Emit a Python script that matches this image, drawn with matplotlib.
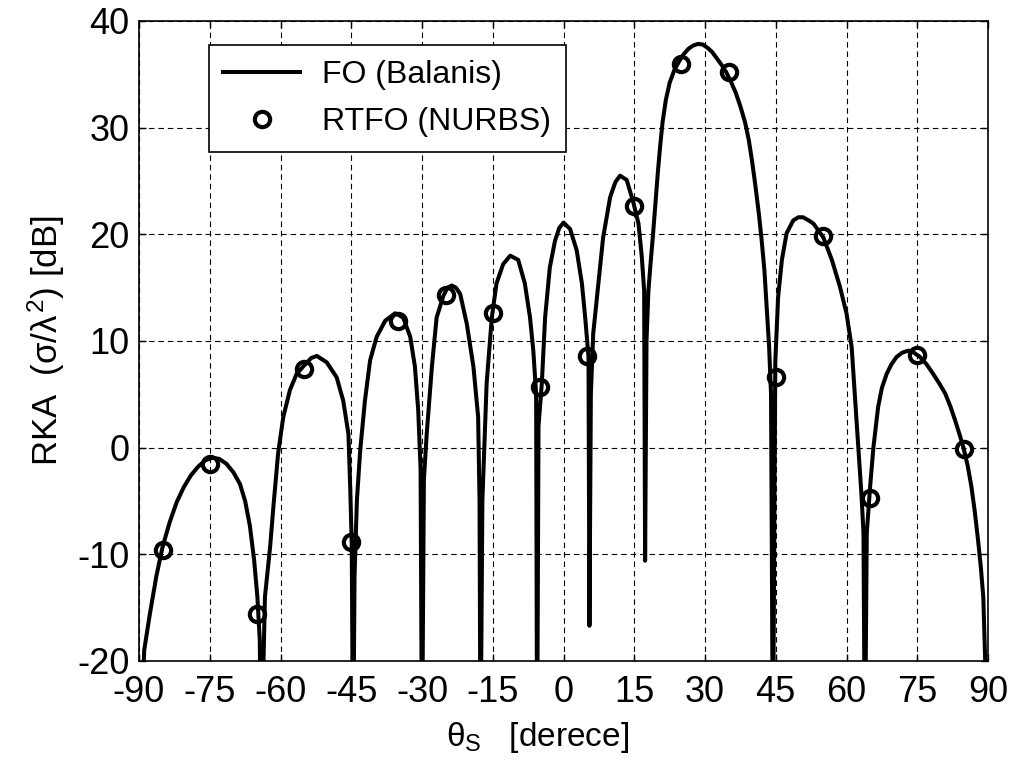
import matplotlib
matplotlib.use("Agg")
import matplotlib.pyplot as plt

# FO (Balanis) curve
fo_theta = [
    -89.3, -88.9, -87.7, -86.3, -85.0, -83.5, -82.0, -80.5, -79.0, -77.5,
    -76.0, -74.5, -73.0, -71.5, -70.0, -68.6, -67.5, -66.5, -65.6, -64.9,
    -64.4, -64.1,
    -63.7, -63.3, -62.2, -61.5, -60.5, -59.4, -58.0, -56.6, -55.2, -53.5,
    -52.3, -50.2, -48.1, -46.7, -45.6, -45.2, -44.9, -44.6,
    -44.3, -43.8, -43.1, -42.1, -41.0, -39.6, -37.8, -35.7, -34.0, -32.5,
    -31.5, -30.8, -30.3, -30.0,
    -29.6, -29.0, -27.9, -26.9, -25.5, -24.6, -23.7, -22.8, -21.9, -20.5,
    -19.1, -18.1, -17.8, -17.6,
    -17.2, -16.3, -15.2, -14.2, -12.8, -11.3, -9.6, -8.2, -7.1, -6.4,
    -5.8, -5.6,
    -5.3, -4.6, -3.9, -2.9, -1.8, -0.9, 0.0, 1.4, 2.8, 3.9, 4.6, 5.3, 5.5,
    5.8, 6.3, 7.4, 8.4, 9.9, 11.0, 12.0, 13.4, 14.8, 15.9, 16.6, 17.1, 17.3,
    17.6, 18.0, 18.5, 19.0, 19.5, 20.0, 20.5, 21.0, 21.7, 22.5, 23.5,
    24.5, 25.5, 26.5, 27.5, 28.5, 29.5, 30.5, 31.5, 32.5, 33.5, 34.5,
    35.5, 36.5, 37.5, 38.5, 39.3, 40.0, 40.7, 41.4, 42.0, 42.6, 43.1,
    43.6, 44.0, 44.4,
    44.9, 45.5, 46.3, 47.3, 48.7, 49.8, 50.8, 52.0, 53.0, 55.1, 56.9,
    58.6, 60.0, 61.1, 61.8, 62.5, 63.2, 63.6, 63.9,
    64.3, 65.0, 65.7, 66.7, 67.5, 68.5, 69.5, 70.6, 71.8, 73.1, 74.3,
    75.6, 77.0, 78.4, 79.7, 80.9, 82.0, 83.0, 84.0, 84.8, 85.7, 86.5,
    87.2, 87.9, 88.5, 89.0, 89.4, 89.7,
]
fo_rcs = [
    -24.0, -19.0, -15.6, -12.0, -9.3, -7.0, -5.1, -3.7, -2.6, -1.8,
    -1.2, -0.95, -1.05, -1.5, -2.3, -3.4, -5.0, -7.3, -10.5, -14.0,
    -18.0, -30.0,
    -22.0, -14.0, -9.3, -5.5, -0.5, 2.9, 5.4, 6.9, 7.6, 8.4,
    8.6, 8.0, 6.6, 4.4, 1.3, -4.0, -9.0, -30.0,
    -12.0, -4.9, -0.25, 4.4, 8.2, 10.4, 11.9, 12.6, 12.2, 10.4,
    7.6, 3.5, -2.0, -30.0,
    -3.0, 1.3, 7.6, 12.2, 14.2, 15.0, 15.2, 15.0, 14.4, 11.6,
    7.6, 2.9, -5.0, -30.0,
    -5.0, 6.0, 12.2, 15.4, 17.2, 18.0, 17.6, 15.4, 12.2, 9.1,
    5.0, -30.0,
    2.0, 6.0, 12.2, 16.9, 19.4, 20.6, 21.1, 20.5, 18.5, 15.4, 12.2, 8.5, -16.7,
    5.0, 10.7, 15.4, 19.7, 23.5, 24.9, 25.5, 25.1, 23.0, 21.0, 17.9, 14.7, -10.6,
    10.0, 14.7, 17.5, 20.1, 23.0, 25.8, 28.3, 30.5, 32.6, 34.2, 35.4,
    36.2, 36.9, 37.4, 37.7, 37.85, 37.8, 37.5, 37.1, 36.5, 35.9, 35.2,
    34.3, 33.3, 32.0, 30.5, 28.8, 26.8, 24.5, 22.0, 19.5, 16.6, 13.0,
    9.4, 5.0, -30.0,
    8.0, 14.1, 17.6, 20.1, 21.3, 21.6, 21.6, 21.3, 21.0, 19.7, 17.6,
    15.1, 12.6, 9.4, 4.7, 0.0, -4.6, -8.0, -30.0,
    -8.0, -3.7, 0.0, 3.8, 5.6, 6.9, 7.8, 8.5, 8.9, 9.1, 8.9,
    8.5, 7.8, 6.9, 6.0, 5.1, 3.9, 2.6, 1.2, 0.0, -1.7, -3.7,
    -6.0, -8.7, -11.3, -14.0, -19.9, -30.0,
]

# RTFO (NURBS) samples
rtfo_theta = [-85, -75, -65, -55, -45, -35, -25, -15, -5,
              5, 15, 25, 35, 45, 55, 65, 75, 85]
rtfo_rcs = [-9.6, -1.5, -15.6, 7.4, -8.8, 11.9, 14.3, 12.6, 5.7,
            8.6, 22.7, 36.0, 35.2, 6.6, 19.8, -4.7, 8.7, -0.1]

x_ticks = [-90, -75, -60, -45, -30, -15, 0, 15, 30, 45, 60, 75, 90]
y_ticks = [-20, -10, 0, 10, 20, 30, 40]

plt.rcParams["font.family"] = ["Liberation Sans", "DejaVu Sans"]
plt.rcParams["mathtext.fontset"] = "custom"
plt.rcParams["mathtext.rm"] = "Liberation Sans"
plt.rcParams["mathtext.it"] = "Liberation Sans"
plt.rcParams["axes.unicode_minus"] = False

fig = plt.figure(figsize=(10.14, 7.74), dpi=100)
ax = fig.add_axes([139 / 1014, 1 - 661 / 774, 849 / 1014, 640 / 774])

ax.plot(fo_theta, fo_rcs, color="black", lw=2.9, label="FO (Balanis)",
        zorder=3)
ax.plot(rtfo_theta, rtfo_rcs, ls="none", marker="o", ms=11, mew=3,
        mfc="none", mec="black", label="RTFO (NURBS)", zorder=4)

ax.set_xlim(-90, 90)
ax.set_ylim(-20, 40)
ax.set_xticks(x_ticks)
ax.set_yticks(y_ticks)
ax.tick_params(direction="in", length=5, width=1, labelsize=26,
               top=True, right=True)
ax.tick_params(axis="x", pad=10)
ax.tick_params(axis="y", pad=7)
ax.grid(True, color="black", lw=0.8, ls=(0, (5, 3.5)))
for s in ax.spines.values():
    s.set_linewidth(1.2)

ax.set_xlabel(r"$\theta_{S}$   [derece]", fontsize=24)
ax.xaxis.set_label_coords(0.469, -0.092)
ax.set_ylabel(r"RKA  $(\sigma/\lambda^{2})$ [dB]", fontsize=25)
ax.yaxis.set_label_coords(-0.085, 0.5)

leg = ax.legend(loc="upper left", bbox_to_anchor=(0.0825, 0.962),
                borderaxespad=0, fontsize=23, handlelength=2.4,
                handletextpad=0.7, labelspacing=0.55, borderpad=0.45,
                fancybox=False, framealpha=1, edgecolor="black")
leg.get_frame().set_linewidth(1.2)

fig.savefig("out.png", dpi=100)
